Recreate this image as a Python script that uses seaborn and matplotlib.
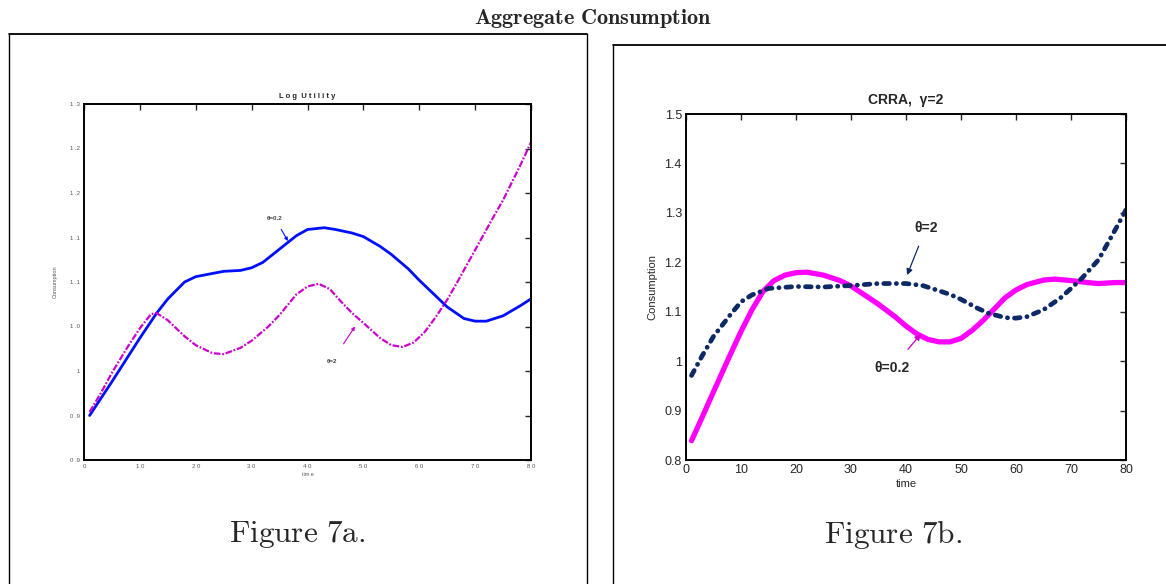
import matplotlib
matplotlib.use("Agg")
import matplotlib.pyplot as plt
from matplotlib.lines import Line2D
import seaborn as sns
import pandas as pd

# ---- Figure 7a: log utility ----
t_a_blue = [1, 5, 10, 13, 15, 18, 20, 25, 28, 30, 32, 35, 38, 40, 43, 45, 48, 50,
            53, 55, 58, 60, 63, 65, 68, 70, 72, 75, 78, 80]
c_a_blue = [0.950, 0.988, 1.037, 1.065, 1.081, 1.100, 1.106, 1.112, 1.113, 1.116,
            1.122, 1.137, 1.152, 1.159, 1.161, 1.159, 1.155, 1.151, 1.140, 1.131,
            1.115, 1.102, 1.084, 1.072, 1.059, 1.056, 1.056, 1.062, 1.073, 1.081]

t_a_mag = [1, 3, 5, 8, 10, 12, 13, 15, 18, 20, 23, 25, 28, 30, 33, 35, 38, 40, 42,
           44, 46, 48, 50, 53, 55, 57, 59, 61, 63, 65, 67, 70, 73, 75, 78, 80]
c_a_mag = [0.954, 0.975, 0.998, 1.029, 1.048, 1.064, 1.065, 1.057, 1.039, 1.029,
           1.020, 1.019, 1.026, 1.034, 1.050, 1.063, 1.086, 1.095, 1.098, 1.092,
           1.078, 1.065, 1.054, 1.037, 1.029, 1.027, 1.032, 1.044, 1.061, 1.080,
           1.102, 1.136, 1.170, 1.192, 1.230, 1.257]

xticks_a = [0, 10, 20, 30, 40, 50, 60, 70, 80]
xlabels_a = ["0", "1 0", "2 0", "3 0", "4 0", "5 0", "6 0", "7 0", "8 0"]
yticks_a = [0.9, 0.95, 1.0, 1.05, 1.1, 1.15, 1.2, 1.25, 1.3]
ylabels_a = ["0 .9", "0 .9", "1", "1 .0", "1 .1", "1 .1", "1 .2", "1 .2", "1 .3"]

# ---- Figure 7b: CRRA gamma=2 ----
t_b_navy = [1, 3, 5, 8, 10, 12, 15, 20, 25, 30, 35, 40, 43, 45, 48, 50, 53, 55, 58,
            60, 62, 65, 68, 70, 72, 75, 78, 80]
c_b_navy = [0.971, 1.012, 1.050, 1.093, 1.120, 1.134, 1.147, 1.151, 1.150, 1.153,
            1.157, 1.157, 1.153, 1.146, 1.135, 1.125, 1.107, 1.097, 1.088, 1.087,
            1.090, 1.104, 1.127, 1.147, 1.168, 1.205, 1.265, 1.306]

t_b_mag = [1, 3, 5, 8, 10, 12, 14, 16, 18, 20, 22, 25, 28, 30, 33, 35, 38, 40, 42,
           44, 46, 48, 50, 52, 54, 56, 58, 60, 62, 65, 67, 70, 73, 75, 78, 80]
c_b_mag = [0.839, 0.888, 0.938, 1.012, 1.060, 1.104, 1.141, 1.163, 1.174, 1.179,
           1.180, 1.174, 1.163, 1.152, 1.130, 1.115, 1.090, 1.071, 1.055, 1.044,
           1.039, 1.039, 1.046, 1.062, 1.082, 1.105, 1.128, 1.144, 1.155, 1.164,
           1.166, 1.163, 1.159, 1.157, 1.159, 1.159]

xticks_b = [0, 10, 20, 30, 40, 50, 60, 70, 80]
yticks_b = [0.8, 0.9, 1.0, 1.1, 1.2, 1.3, 1.4, 1.5]
ylabels_b = ["0.8", "0.9", "1", "1.1", "1.2", "1.3", "1.4", "1.5"]

sns.set_style("white")
plt.rcParams["font.family"] = ["Liberation Sans", "DejaVu Sans"]
plt.rcParams["mathtext.fontset"] = "cm"

fig = plt.figure(figsize=(11.66, 5.84), dpi=100)
W, H = 1166, 584

# panel frames
def fline(x0, y0, x1, y1, lw=1.0):
    fig.add_artist(Line2D([x0 / W, x1 / W], [1 - y0 / H, 1 - y1 / H],
                          color="black", lw=lw, transform=fig.transFigure))

fline(9, 34, 587, 34, 1.3)
fline(9, 34, 9, 584)
fline(587, 34, 587, 584)
fline(613, 45, 1166, 45, 1.3)
fline(613, 45, 613, 584)

fig.text(593 / W, 1 - 19 / H, r"$\mathbf{Aggregate\ Consumption}$",
         ha="center", va="center", fontsize=16)
fig.text(297 / W, 1 - 535 / H, r"$\mathrm{Figure\ 7a.}$",
         ha="center", va="center", fontsize=22.5)
fig.text(893 / W, 1 - 535 / H, r"$\mathrm{Figure\ 7b.}$",
         ha="center", va="center", fontsize=22.5)

# ---- left panel ----
ax1 = fig.add_axes([84 / W, 1 - 460 / H, 447 / W, 356 / H])
sns.lineplot(x=t_a_blue, y=c_a_blue, ax=ax1, color="#0010ff", linewidth=2.0)
sns.lineplot(x=t_a_mag, y=c_a_mag, ax=ax1, color="#cc00cc", linewidth=1.6,
             linestyle=(0, (3, 0.8, 0.8, 0.8)))
ax1.set_xlim(0, 80)
ax1.set_ylim(0.9, 1.3)
ax1.set_xticks(xticks_a)
ax1.set_xticklabels(xlabels_a)
ax1.set_yticks(yticks_a)
ax1.set_yticklabels(ylabels_a)
ax1.tick_params(direction="in", top=True, right=True, length=4, width=1,
                labelsize=4.3, labelcolor="#555555", pad=3)
for s in ax1.spines.values():
    s.set_linewidth(1.4)
    s.set_color("black")
ax1.set_title("L o g  U t i l i t y", fontsize=5.5, fontweight="bold", pad=4)
ax1.set_xlabel("tim e", fontsize=4, color="#555555", labelpad=2)
ax1.set_ylabel("Consumption", fontsize=4, color="#555555", labelpad=9)
ax1.annotate("θ=0.2", xy=(36.5, 1.146), xytext=(34.2, 1.171), fontsize=4.5,
             fontweight="bold", color="#444444", ha="center", va="center",
             arrowprops=dict(arrowstyle="-|>", color="#0010ff", lw=0.8,
                             mutation_scale=5, shrinkA=4, shrinkB=0))
ax1.annotate("θ=2", xy=(48.5, 1.050), xytext=(44.4, 1.011), fontsize=4.5,
             fontweight="bold", color="#444444", ha="center", va="center",
             arrowprops=dict(arrowstyle="-|>", color="#cc00cc", lw=0.8,
                             mutation_scale=5, shrinkA=10, shrinkB=0))

# ---- right panel ----
ax2 = fig.add_axes([686 / W, 1 - 460 / H, 440 / W, 346 / H])
sns.lineplot(x=t_b_mag, y=c_b_mag, ax=ax2, color="#ff00ff", linewidth=3.8,
             solid_capstyle="round")
sns.lineplot(x=t_b_navy, y=c_b_navy, ax=ax2, color="#0d2a66", linewidth=3.4,
             linestyle=(0, (1.2, 1.45, 0.05, 1.45)), dash_capstyle="round")
ax2.set_xlim(0, 80)
ax2.set_ylim(0.8, 1.5)
ax2.set_xticks(xticks_b)
ax2.set_yticks(yticks_b)
ax2.set_yticklabels(ylabels_b)
ax2.tick_params(direction="in", top=True, right=True, length=4, width=1,
                labelsize=9, pad=3)
for s in ax2.spines.values():
    s.set_linewidth(1.4)
    s.set_color("black")
ax2.set_title("CRRA,  γ=2", fontsize=10, fontweight="bold", pad=7)
ax2.set_xlabel("time", fontsize=8, labelpad=2)
ax2.set_ylabel("Consumption", fontsize=8, labelpad=5)
ax2.annotate("θ=2", xy=(40.2, 1.174), xytext=(43.6, 1.269), fontsize=10,
             fontweight="bold", ha="center", va="center",
             arrowprops=dict(arrowstyle="-|>", color="#0d2a66", lw=0.9,
                             mutation_scale=9, shrinkA=6, shrinkB=0))
ax2.annotate("θ=0.2", xy=(42.7, 1.055), xytext=(37.5, 0.986), fontsize=10,
             fontweight="bold", ha="center", va="center",
             arrowprops=dict(arrowstyle="-|>", color="#cc00cc", lw=0.9,
                             mutation_scale=9, shrinkA=8, shrinkB=0))

fig.savefig("out.png", dpi=100)
